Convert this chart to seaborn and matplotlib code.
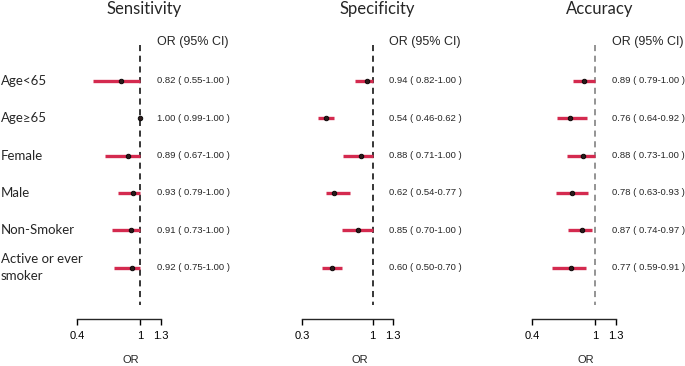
import numpy as np
import pandas as pd
import matplotlib
matplotlib.use("Agg")
import matplotlib.pyplot as plt
import seaborn as sns

# Группы (строки форест-плота)
groups = ["Age<65", "Age≥65", "Female", "Male", "Non-Smoker", "Active or ever\nsmoker"]

# Sensitivity
sens_or = [0.82, 1.00, 0.89, 0.93, 0.91, 0.92]
sens_lo = [0.55, 0.99, 0.67, 0.79, 0.73, 0.75]
sens_hi = [1.00, 1.00, 1.00, 1.00, 1.00, 1.00]

# Specificity
spec_or = [0.94, 0.54, 0.88, 0.62, 0.85, 0.60]
spec_lo = [0.82, 0.46, 0.71, 0.54, 0.70, 0.50]
spec_hi = [1.00, 0.62, 1.00, 0.77, 1.00, 0.70]

# Accuracy
acc_or = [0.89, 0.76, 0.88, 0.78, 0.87, 0.77]
acc_lo = [0.79, 0.64, 0.73, 0.63, 0.74, 0.59]
acc_hi = [1.00, 0.92, 1.00, 0.93, 0.97, 0.91]

# Подписи оси X
sens_ticks = [0.4, 1.0, 1.2]
spec_ticks = [0.3, 1.0, 1.2]
acc_ticks = [0.4, 1.0, 1.2]
sens_ticklabels = ["0.4", "1", "1.3"]
spec_ticklabels = ["0.3", "1", "1.3"]
acc_ticklabels = ["0.4", "1", "1.3"]

sns.set_style("white")
plt.rcParams['font.family'] = ['Liberation Sans', 'DejaVu Sans']

W, H = 685, 366
fig = plt.figure(figsize=(W / 100, H / 100), dpi=100)

red = '#d42a4f'

panels = [
    # title, or, lo, hi, ticks, labels, xlim, left px, dash colour
    ("Sensitivity", sens_or, sens_lo, sens_hi, sens_ticks, sens_ticklabels, (0.35, 1.25), 71.75, 'black'),
    ("Specificity", spec_or, spec_lo, spec_hi, spec_ticks, spec_ticklabels, (0.25, 1.25), 297.2, 'black'),
    ("Accuracy", acc_or, acc_lo, acc_hi, acc_ticks, acc_ticklabels, (0.35, 1.25), 527.0, '#777777'),
]

ax_top, ax_bottom = 40, 319
y_top, y_bot = -1.09, 6.37

for k, (title, o, lo, hi, ticks, tlabels, xlim, left_px, dash_col) in enumerate(panels):
    px_per_unit = 105 if k != 1 else 100.6
    width_px = (xlim[1] - xlim[0]) * px_per_unit
    ax = fig.add_axes([left_px / W, (H - ax_bottom) / H, width_px / W, (ax_bottom - ax_top) / H])

    df = pd.DataFrame({'group': groups, 'OR': o, 'lo': lo, 'hi': hi, 'row': np.arange(len(groups))})

    ax.vlines(1, -0.95, 6.0, colors=dash_col, linestyles=(0, (4, 3)), linewidth=1.1, zorder=1)
    ax.hlines(df['row'], df['lo'], df['hi'], colors=red, linewidth=2.4, zorder=2)
    sns.scatterplot(x='OR', y='row', data=df, ax=ax, color='#2a1a1a', s=11,
                    edgecolor='black', linewidth=0.6, zorder=3, legend=False)

    ax.set_xlim(*xlim)
    ax.set_ylim(y_bot, y_top)
    ax.set_yticks([])
    ax.set_ylabel('')
    for s in ['top', 'right', 'left']:
        ax.spines[s].set_visible(False)
    ax.spines['bottom'].set_bounds(ticks[0], ticks[-1])
    ax.spines['bottom'].set_linewidth(1.0)
    ax.set_xticks(ticks)
    ax.set_xticklabels(tlabels, fontsize=8)
    ax.tick_params(axis='x', direction='out', length=4.5, width=1.0, pad=4, bottom=True, colors='black')
    ax.set_xlabel('OR', fontsize=8)
    ax.xaxis.set_label_coords(0.62, -0.13)
    ax.patch.set_alpha(0)

    # текст OR (95% CI)
    for i in range(len(groups)):
        ax.annotate("{:.2f} ( {:.2f}-{:.2f} )".format(o[i], lo[i], hi[i]),
                    xy=(1, i), xytext=(12, 0), textcoords='offset points',
                    fontsize=6.8, va='center', ha='left', annotation_clip=False)
    ax.annotate("OR (95% CI)", xy=(1, -1.04), xytext=(12, 0), textcoords='offset points',
                fontsize=9, va='center', ha='left', annotation_clip=False)

    # заголовок панели
    ax.annotate(title, xy=(1, 1), xycoords=('data', 'axes fraction'), xytext=(3, 22.5),
                textcoords='offset points', fontsize=12, ha='center', va='center',
                family=['Lato', 'DejaVu Sans'], annotation_clip=False)

    if k == 0:
        for i, g in enumerate(groups):
            fig.text(1 / W, 1 - (80.7 + 37.4 * i) / H, g, fontsize=9.5, va='center', ha='left',
                     family=['Lato', 'DejaVu Sans'], linespacing=1.5)

fig.savefig('out.png', dpi=100)
